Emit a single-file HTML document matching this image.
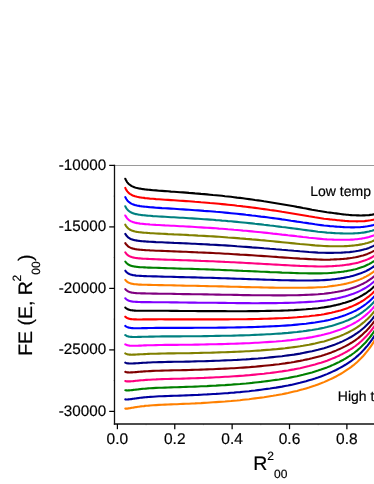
<!DOCTYPE html>
<html>
<head>
<meta charset="utf-8">
<title>FE (E, R2 00) vs R2 00</title>
<style>
html, body { margin: 0; padding: 0; background: #ffffff; }
body { width: 374px; height: 484px; overflow: hidden; position: relative; }
svg { position: absolute; left: 0; top: 0; display: block; }
text { font-family: "Liberation Sans", sans-serif; fill: #000000; stroke: #000000; stroke-width: 0.2px; text-rendering: geometricPrecision; }
svg { will-change: transform; }
svg text { filter: opacity(1); }
.curves path { fill: none; stroke-width: 2.1; stroke-linecap: round; stroke-linejoin: round; }
</style>
</head>
<body>
<svg width="374" height="484" viewBox="0 0 374 484">
<rect x="0" y="0" width="374" height="484" fill="#ffffff"/>
<g class="curves">
<path d="M125.3 178.8L125.8 179.8L126.3 180.7L126.8 181.6L127.3 182.3L127.8 182.9L128.3 183.5L128.8 184L129.3 184.4L129.8 184.8L130.3 185.2L130.8 185.5L131.3 185.8L131.8 186.1L132.3 186.4L132.8 186.6L133.3 186.8L133.8 187L134.3 187.2L134.8 187.4L135 187.5L136 187.8L137 188L138 188.2L139 188.5L140 188.6L141 188.8L142 189L143 189.1L144 189.2L145 189.4L146 189.5L147 189.6L148 189.7L149 189.8L150 189.9L153 190.2L156 190.4L159 190.7L162 190.9L165 191.1L168 191.3L171 191.6L174 191.8L177 192L180 192.2L183 192.4L186 192.6L189 192.9L192 193.1L195 193.4L198 193.6L201 193.9L204 194.1L207 194.4L210 194.7L213 195L216 195.2L219 195.5L222 195.8L225 196.2L228 196.5L231 196.8L234 197.2L237 197.6L240 197.9L243 198.3L246 198.7L249 199.1L252 199.5L255 200L258 200.4L261 200.8L264 201.3L267 201.7L270 202.2L273 202.7L276 203.2L279 203.7L282 204.2L285 204.7L288 205.2L291 205.7L294 206.3L297 206.9L300 207.4L303 208L306 208.5L309 209.1L312 209.7L315 210.2L318 210.8L321 211.3L324 211.8L327 212.3L330 212.6L331.5 212.8L333 213L334.5 213.2L336 213.4L337.5 213.6L339 213.8L340.5 214L342 214.2L343.5 214.4L345 214.5L346.5 214.7L348 214.8L349.5 215L351 215.1L352.5 215.2L354 215.3L355.5 215.3L357 215.4L358.5 215.4L360 215.5L361.5 215.5L363 215.4L364.5 215.4L366 215.3L367.5 215.2L369 215.1L370.5 214.9L372 214.7L373.5 214.4L374.5 214.2" stroke="#000000"/>
<path d="M125.3 187.9L125.8 189L126.3 189.9L126.8 190.6L127.3 191.3L127.8 191.9L128.3 192.5L128.8 192.9L129.3 193.4L129.8 193.8L130.3 194.1L130.8 194.4L131.3 194.7L131.8 195L132.3 195.2L132.8 195.5L133.3 195.7L133.8 195.9L134.3 196L134.8 196.2L135 196.3L136 196.5L137 196.8L138 197L139 197.2L140 197.4L141 197.5L142 197.7L143 197.8L144 197.9L145 198.1L146 198.2L147 198.3L148 198.4L149 198.5L150 198.6L153 198.8L156 199.1L159 199.3L162 199.5L165 199.7L168 199.9L171 200.1L174 200.3L177 200.5L180 200.7L183 200.9L186 201.1L189 201.3L192 201.5L195 201.8L198 202L201 202.3L204 202.5L207 202.7L210 203L213 203.2L216 203.5L219 203.8L222 204.1L225 204.4L228 204.7L231 205L234 205.3L237 205.7L240 206L243 206.4L246 206.7L249 207.1L252 207.5L255 207.9L258 208.3L261 208.7L264 209.1L267 209.5L270 210L273 210.4L276 210.8L279 211.3L282 211.8L285 212.2L288 212.7L291 213.2L294 213.7L297 214.2L300 214.7L303 215.2L306 215.7L309 216.3L312 216.8L315 217.3L318 217.7L321 218.2L324 218.7L327 219L330 219.4L331.5 219.5L333 219.7L334.5 219.8L336 220L337.5 220.2L339 220.3L340.5 220.5L342 220.6L343.5 220.7L345 220.9L346.5 221L348 221.1L349.5 221.2L351 221.2L352.5 221.3L354 221.3L355.5 221.3L357 221.4L358.5 221.3L360 221.3L361.5 221.3L363 221.2L364.5 221.1L366 220.9L367.5 220.8L369 220.5L370.5 220.3L372 220L373.5 219.7L374.5 219.5" stroke="#ff0000"/>
<path d="M125.3 197.1L125.8 198.1L126.3 199L126.8 199.7L127.3 200.4L127.8 201L128.3 201.5L128.8 201.9L129.3 202.3L129.8 202.7L130.3 203L130.8 203.3L131.3 203.6L131.8 203.9L132.3 204.1L132.8 204.3L133.3 204.5L133.8 204.7L134.3 204.8L134.8 205L135 205.1L136 205.3L137 205.6L138 205.8L139 205.9L140 206.1L141 206.2L142 206.4L143 206.5L144 206.6L145 206.7L146 206.8L147 206.9L148 207L149 207.1L150 207.2L153 207.4L156 207.7L159 207.9L162 208.1L165 208.2L168 208.4L171 208.6L174 208.8L177 209L180 209.2L183 209.4L186 209.6L189 209.8L192 210L195 210.2L198 210.4L201 210.6L204 210.9L207 211.1L210 211.3L213 211.5L216 211.8L219 212L222 212.3L225 212.6L228 212.9L231 213.2L234 213.5L237 213.8L240 214.1L243 214.4L246 214.8L249 215.1L252 215.5L255 215.8L258 216.2L261 216.6L264 216.9L267 217.3L270 217.7L273 218.1L276 218.5L279 218.9L282 219.4L285 219.8L288 220.2L291 220.7L294 221.1L297 221.6L300 222L303 222.5L306 222.9L309 223.4L312 223.8L315 224.3L318 224.7L321 225.1L324 225.5L327 225.8L330 226.1L331.5 226.2L333 226.3L334.5 226.5L336 226.6L337.5 226.7L339 226.8L340.5 226.9L342 227L343.5 227.1L345 227.2L346.5 227.3L348 227.3L349.5 227.3L351 227.4L352.5 227.4L354 227.4L355.5 227.3L357 227.3L358.5 227.2L360 227.2L361.5 227L363 226.9L364.5 226.7L366 226.5L367.5 226.3L369 226L370.5 225.7L372 225.4L373.5 225L374.5 224.7" stroke="#0000ff"/>
<path d="M125.3 206.3L125.8 207.3L126.3 208.1L126.8 208.8L127.3 209.4L127.8 210L128.3 210.5L128.8 210.9L129.3 211.3L129.8 211.6L130.3 212L130.8 212.2L131.3 212.5L131.8 212.7L132.3 213L132.8 213.2L133.3 213.3L133.8 213.5L134.3 213.7L134.8 213.8L135 213.9L136 214.1L137 214.3L138 214.5L139 214.7L140 214.8L141 215L142 215.1L143 215.2L144 215.3L145 215.4L146 215.5L147 215.6L148 215.7L149 215.8L150 215.8L153 216.1L156 216.3L159 216.5L162 216.6L165 216.8L168 217L171 217.2L174 217.3L177 217.5L180 217.7L183 217.8L186 218L189 218.2L192 218.4L195 218.6L198 218.8L201 219L204 219.2L207 219.4L210 219.6L213 219.8L216 220.1L219 220.3L222 220.6L225 220.8L228 221.1L231 221.3L234 221.6L237 221.9L240 222.2L243 222.5L246 222.8L249 223.1L252 223.4L255 223.8L258 224.1L261 224.4L264 224.8L267 225.1L270 225.5L273 225.8L276 226.2L279 226.6L282 227L285 227.3L288 227.7L291 228.1L294 228.5L297 228.9L300 229.3L303 229.7L306 230.1L309 230.5L312 230.9L315 231.3L318 231.7L321 232L324 232.3L327 232.6L330 232.8L331.5 232.9L333 233L334.5 233.1L336 233.2L337.5 233.2L339 233.3L340.5 233.4L342 233.4L343.5 233.5L345 233.5L346.5 233.5L348 233.5L349.5 233.5L351 233.5L352.5 233.5L354 233.4L355.5 233.3L357 233.2L358.5 233.1L360 233L361.5 232.8L363 232.6L364.5 232.4L366 232.1L367.5 231.8L369 231.5L370.5 231.1L372 230.7L373.5 230.2L374.5 229.9" stroke="#008080"/>
<path d="M125.3 215.5L125.8 216.4L126.3 217.2L126.8 217.9L127.3 218.5L127.8 219L128.3 219.5L128.8 219.9L129.3 220.3L129.8 220.6L130.3 220.9L130.8 221.2L131.3 221.4L131.8 221.6L132.3 221.8L132.8 222L133.3 222.2L133.8 222.3L134.3 222.5L134.8 222.6L135 222.7L136 222.9L137 223.1L138 223.3L139 223.4L140 223.6L141 223.7L142 223.8L143 223.9L144 224L145 224.1L146 224.2L147 224.3L148 224.3L149 224.4L150 224.5L153 224.7L156 224.9L159 225L162 225.2L165 225.4L168 225.5L171 225.7L174 225.8L177 226L180 226.2L183 226.3L186 226.5L189 226.6L192 226.8L195 227L198 227.2L201 227.4L204 227.6L207 227.8L210 227.9L213 228.1L216 228.3L219 228.6L222 228.8L225 229L228 229.3L231 229.5L234 229.8L237 230L240 230.3L243 230.6L246 230.8L249 231.1L252 231.4L255 231.7L258 232L261 232.3L264 232.6L267 232.9L270 233.2L273 233.6L276 233.9L279 234.2L282 234.6L285 234.9L288 235.3L291 235.6L294 235.9L297 236.3L300 236.6L303 237L306 237.3L309 237.7L312 238L315 238.3L318 238.6L321 238.9L324 239.2L327 239.4L330 239.5L331.5 239.5L333 239.6L334.5 239.7L336 239.7L337.5 239.8L339 239.8L340.5 239.8L342 239.8L343.5 239.8L345 239.8L346.5 239.8L348 239.8L349.5 239.7L351 239.6L352.5 239.6L354 239.5L355.5 239.3L357 239.2L358.5 239L360 238.8L361.5 238.6L363 238.3L364.5 238.1L366 237.7L367.5 237.4L369 237L370.5 236.5L372 236L373.5 235.5L374.5 235.1" stroke="#ff00ff"/>
<path d="M125.3 224.7L125.8 225.6L126.3 226.3L126.8 227L127.3 227.5L127.8 228L128.3 228.5L128.8 228.9L129.3 229.2L129.8 229.5L130.3 229.8L130.8 230.1L131.3 230.3L131.8 230.5L132.3 230.7L132.8 230.9L133.3 231L133.8 231.2L134.3 231.3L134.8 231.4L135 231.5L136 231.7L137 231.9L138 232L139 232.2L140 232.3L141 232.4L142 232.5L143 232.6L144 232.7L145 232.8L146 232.8L147 232.9L148 233L149 233L150 233.1L153 233.3L156 233.5L159 233.6L162 233.8L165 233.9L168 234.1L171 234.2L174 234.4L177 234.5L180 234.6L183 234.8L186 234.9L189 235.1L192 235.2L195 235.4L198 235.6L201 235.7L204 235.9L207 236.1L210 236.3L213 236.4L216 236.6L219 236.8L222 237L225 237.2L228 237.5L231 237.7L234 237.9L237 238.1L240 238.4L243 238.6L246 238.9L249 239.1L252 239.4L255 239.6L258 239.9L261 240.2L264 240.4L267 240.7L270 241L273 241.3L276 241.6L279 241.9L282 242.2L285 242.5L288 242.8L291 243.1L294 243.4L297 243.7L300 244L303 244.2L306 244.5L309 244.8L312 245.1L315 245.4L318 245.6L321 245.8L324 246L327 246.1L330 246.2L331.5 246.2L333 246.2L334.5 246.3L336 246.3L337.5 246.3L339 246.3L340.5 246.3L342 246.2L343.5 246.2L345 246.1L346.5 246.1L348 246L349.5 245.9L351 245.8L352.5 245.6L354 245.5L355.5 245.3L357 245.1L358.5 244.9L360 244.6L361.5 244.4L363 244L364.5 243.7L366 243.3L367.5 242.9L369 242.4L370.5 241.9L372 241.4L373.5 240.7L374.5 240.3" stroke="#808000"/>
<path d="M125.3 233.9L125.8 234.7L126.3 235.4L126.8 236.1L127.3 236.6L127.8 237.1L128.3 237.5L128.8 237.8L129.3 238.2L129.8 238.5L130.3 238.7L130.8 239L131.3 239.2L131.8 239.4L132.3 239.5L132.8 239.7L133.3 239.8L133.8 240L134.3 240.1L134.8 240.2L135 240.3L136 240.4L137 240.6L138 240.8L139 240.9L140 241L141 241.1L142 241.2L143 241.3L144 241.4L145 241.4L146 241.5L147 241.6L148 241.6L149 241.7L150 241.7L153 241.9L156 242.1L159 242.2L162 242.3L165 242.5L168 242.6L171 242.7L174 242.9L177 243L180 243.1L183 243.3L186 243.4L189 243.5L192 243.7L195 243.8L198 244L201 244.1L204 244.3L207 244.4L210 244.6L213 244.7L216 244.9L219 245.1L222 245.3L225 245.4L228 245.6L231 245.8L234 246L237 246.3L240 246.5L243 246.7L246 246.9L249 247.1L252 247.4L255 247.6L258 247.8L261 248L264 248.3L267 248.5L270 248.8L273 249L276 249.3L279 249.5L282 249.8L285 250L288 250.3L291 250.5L294 250.8L297 251L300 251.3L303 251.5L306 251.7L309 252L312 252.2L315 252.4L318 252.6L321 252.7L324 252.8L327 252.9L330 252.9L331.5 252.9L333 252.9L334.5 252.8L336 252.8L337.5 252.8L339 252.7L340.5 252.7L342 252.6L343.5 252.5L345 252.4L346.5 252.3L348 252.2L349.5 252.1L351 251.9L352.5 251.7L354 251.5L355.5 251.3L357 251L358.5 250.8L360 250.4L361.5 250.1L363 249.7L364.5 249.3L366 248.9L367.5 248.4L369 247.9L370.5 247.3L372 246.6L373.5 245.9L374.5 245.4" stroke="#000080"/>
<path d="M125.3 243.1L125.8 243.9L126.3 244.6L126.8 245.1L127.3 245.6L127.8 246.1L128.3 246.5L128.8 246.8L129.3 247.1L129.8 247.4L130.3 247.6L130.8 247.9L131.3 248.1L131.8 248.2L132.3 248.4L132.8 248.5L133.3 248.7L133.8 248.8L134.3 248.9L134.8 249L135 249.1L136 249.2L137 249.4L138 249.5L139 249.6L140 249.7L141 249.8L142 249.9L143 250L144 250L145 250.1L146 250.2L147 250.2L148 250.3L149 250.3L150 250.4L153 250.5L156 250.7L159 250.8L162 250.9L165 251L168 251.1L171 251.3L174 251.4L177 251.5L180 251.6L183 251.7L186 251.8L189 252L192 252.1L195 252.2L198 252.4L201 252.5L204 252.6L207 252.8L210 252.9L213 253L216 253.2L219 253.3L222 253.5L225 253.7L228 253.8L231 254L234 254.2L237 254.4L240 254.6L243 254.7L246 254.9L249 255.1L252 255.3L255 255.5L258 255.7L261 255.9L264 256.1L267 256.3L270 256.5L273 256.7L276 256.9L279 257.2L282 257.4L285 257.6L288 257.8L291 258L294 258.2L297 258.4L300 258.6L303 258.7L306 258.9L309 259.1L312 259.3L315 259.4L318 259.5L321 259.6L324 259.7L327 259.7L330 259.6L331.5 259.5L333 259.5L334.5 259.4L336 259.4L337.5 259.3L339 259.2L340.5 259.1L342 259L343.5 258.9L345 258.7L346.5 258.6L348 258.4L349.5 258.2L351 258L352.5 257.8L354 257.5L355.5 257.3L357 256.9L358.5 256.6L360 256.2L361.5 255.8L363 255.4L364.5 254.9L366 254.4L367.5 253.9L369 253.3L370.5 252.6L372 251.9L373.5 251.1L374.5 250.6" stroke="#800000"/>
<path d="M125.3 252.3L125.8 253L126.3 253.7L126.8 254.2L127.3 254.7L127.8 255.1L128.3 255.5L128.8 255.8L129.3 256.1L129.8 256.3L130.3 256.6L130.8 256.8L131.3 256.9L131.8 257.1L132.3 257.3L132.8 257.4L133.3 257.5L133.8 257.6L134.3 257.7L134.8 257.8L135 257.9L136 258L137 258.1L138 258.3L139 258.4L140 258.4L141 258.5L142 258.6L143 258.7L144 258.7L145 258.8L146 258.8L147 258.9L148 258.9L149 259L150 259L153 259.1L156 259.3L159 259.4L162 259.5L165 259.6L168 259.7L171 259.8L174 259.9L177 260L180 260.1L183 260.2L186 260.3L189 260.4L192 260.5L195 260.6L198 260.7L201 260.9L204 261L207 261.1L210 261.2L213 261.3L216 261.5L219 261.6L222 261.7L225 261.9L228 262L231 262.2L234 262.3L237 262.5L240 262.6L243 262.8L246 263L249 263.1L252 263.3L255 263.5L258 263.6L261 263.8L264 264L267 264.1L270 264.3L273 264.5L276 264.6L279 264.8L282 265L285 265.1L288 265.3L291 265.5L294 265.6L297 265.7L300 265.9L303 266L306 266.1L309 266.2L312 266.3L315 266.4L318 266.5L321 266.5L324 266.5L327 266.4L330 266.3L331.5 266.2L333 266.1L334.5 266L336 265.9L337.5 265.8L339 265.7L340.5 265.5L342 265.4L343.5 265.2L345 265L346.5 264.8L348 264.6L349.5 264.4L351 264.1L352.5 263.8L354 263.5L355.5 263.2L357 262.9L358.5 262.5L360 262L361.5 261.6L363 261.1L364.5 260.6L366 260L367.5 259.4L369 258.7L370.5 258L372 257.2L373.5 256.3L374.5 255.7" stroke="#ff0080"/>
<path d="M125.3 261.5L125.8 262.2L126.3 262.8L126.8 263.3L127.3 263.7L127.8 264.1L128.3 264.5L128.8 264.8L129.3 265L129.8 265.3L130.3 265.5L130.8 265.7L131.3 265.8L131.8 266L132.3 266.1L132.8 266.2L133.3 266.3L133.8 266.4L134.3 266.5L134.8 266.6L135 266.6L136 266.8L137 266.9L138 267L139 267.1L140 267.2L141 267.2L142 267.3L143 267.3L144 267.4L145 267.4L146 267.5L147 267.5L148 267.6L149 267.6L150 267.6L153 267.7L156 267.8L159 267.9L162 268L165 268.1L168 268.2L171 268.3L174 268.4L177 268.5L180 268.6L183 268.7L186 268.8L189 268.8L192 268.9L195 269L198 269.1L201 269.2L204 269.3L207 269.4L210 269.5L213 269.6L216 269.7L219 269.8L222 270L225 270.1L228 270.2L231 270.3L234 270.5L237 270.6L240 270.7L243 270.9L246 271L249 271.1L252 271.3L255 271.4L258 271.5L261 271.7L264 271.8L267 271.9L270 272.1L273 272.2L276 272.3L279 272.4L282 272.6L285 272.7L288 272.8L291 272.9L294 273L297 273.1L300 273.2L303 273.2L306 273.3L309 273.4L312 273.4L315 273.4L318 273.4L321 273.4L324 273.3L327 273.2L330 273L331.5 272.9L333 272.7L334.5 272.6L336 272.5L337.5 272.3L339 272.1L340.5 272L342 271.8L343.5 271.6L345 271.3L346.5 271.1L348 270.8L349.5 270.5L351 270.2L352.5 269.9L354 269.5L355.5 269.2L357 268.8L358.5 268.3L360 267.8L361.5 267.3L363 266.8L364.5 266.2L366 265.5L367.5 264.8L369 264.1L370.5 263.3L372 262.4L373.5 261.5L374.5 260.8" stroke="#008000"/>
<path d="M125.3 270.7L125.8 271.3L126.3 271.9L126.8 272.4L127.3 272.8L127.8 273.2L128.3 273.5L128.8 273.7L129.3 274L129.8 274.2L130.3 274.4L130.8 274.6L131.3 274.7L131.8 274.8L132.3 275L132.8 275.1L133.3 275.2L133.8 275.3L134.3 275.3L134.8 275.4L135 275.4L136 275.6L137 275.7L138 275.8L139 275.8L140 275.9L141 275.9L142 276L143 276L144 276.1L145 276.1L146 276.1L147 276.2L148 276.2L149 276.2L150 276.3L153 276.4L156 276.4L159 276.5L162 276.6L165 276.7L168 276.7L171 276.8L174 276.9L177 277L180 277.1L183 277.1L186 277.2L189 277.3L192 277.4L195 277.4L198 277.5L201 277.6L204 277.7L207 277.8L210 277.8L213 277.9L216 278L219 278.1L222 278.2L225 278.3L228 278.4L231 278.5L234 278.6L237 278.7L240 278.8L243 278.9L246 279L249 279.1L252 279.2L255 279.3L258 279.4L261 279.5L264 279.6L267 279.7L270 279.8L273 279.9L276 280L279 280.1L282 280.2L285 280.2L288 280.3L291 280.4L294 280.4L297 280.5L300 280.5L303 280.5L306 280.5L309 280.5L312 280.5L315 280.4L318 280.4L321 280.3L324 280.1L327 279.9L330 279.7L331.5 279.5L333 279.3L334.5 279.2L336 279L337.5 278.8L339 278.6L340.5 278.4L342 278.1L343.5 277.9L345 277.6L346.5 277.3L348 277L349.5 276.7L351 276.3L352.5 275.9L354 275.5L355.5 275.1L357 274.6L358.5 274.1L360 273.6L361.5 273L363 272.4L364.5 271.8L366 271.1L367.5 270.3L369 269.5L370.5 268.6L372 267.7L373.5 266.7L374.5 265.9" stroke="#0000a0"/>
<path d="M125.3 279.9L125.8 280.5L126.3 281L126.8 281.5L127.3 281.8L127.8 282.2L128.3 282.5L128.8 282.7L129.3 282.9L129.8 283.1L130.3 283.3L130.8 283.5L131.3 283.6L131.8 283.7L132.3 283.8L132.8 283.9L133.3 284L133.8 284.1L134.3 284.2L134.8 284.2L135 284.2L136 284.3L137 284.4L138 284.5L139 284.6L140 284.6L141 284.6L142 284.7L143 284.7L144 284.7L145 284.8L146 284.8L147 284.8L148 284.9L149 284.9L150 284.9L153 285L156 285L159 285.1L162 285.1L165 285.2L168 285.3L171 285.3L174 285.4L177 285.5L180 285.5L183 285.6L186 285.7L189 285.7L192 285.8L195 285.8L198 285.9L201 286L204 286L207 286.1L210 286.2L213 286.2L216 286.3L219 286.4L222 286.4L225 286.5L228 286.6L231 286.7L234 286.8L237 286.8L240 286.9L243 287L246 287.1L249 287.1L252 287.2L255 287.3L258 287.3L261 287.4L264 287.5L267 287.5L270 287.6L273 287.6L276 287.7L279 287.7L282 287.8L285 287.8L288 287.8L291 287.8L294 287.8L297 287.8L300 287.8L303 287.8L306 287.7L309 287.6L312 287.6L315 287.5L318 287.3L321 287.2L324 287L327 286.7L330 286.3L331.5 286.1L333 285.9L334.5 285.7L336 285.5L337.5 285.3L339 285L340.5 284.8L342 284.5L343.5 284.2L345 283.9L346.5 283.6L348 283.2L349.5 282.8L351 282.4L352.5 282L354 281.5L355.5 281.1L357 280.5L358.5 280L360 279.4L361.5 278.7L363 278.1L364.5 277.3L366 276.6L367.5 275.7L369 274.9L370.5 273.9L372 272.9L373.5 271.8L374.5 271" stroke="#ff8000"/>
<path d="M125.3 289.1L125.8 289.7L126.3 290.1L126.8 290.5L127.3 290.9L127.8 291.2L128.3 291.5L128.8 291.7L129.3 291.9L129.8 292.1L130.3 292.2L130.8 292.4L131.3 292.5L131.8 292.6L132.3 292.7L132.8 292.8L133.3 292.8L133.8 292.9L134.3 293L134.8 293L135 293L136 293.1L137 293.2L138 293.2L139 293.3L140 293.3L141 293.4L142 293.4L143 293.4L144 293.4L145 293.4L146 293.5L147 293.5L148 293.5L149 293.5L150 293.5L153 293.6L156 293.6L159 293.7L162 293.7L165 293.7L168 293.8L171 293.8L174 293.9L177 294L180 294L183 294.1L186 294.1L189 294.1L192 294.2L195 294.2L198 294.3L201 294.3L204 294.4L207 294.4L210 294.5L213 294.5L216 294.6L219 294.6L222 294.7L225 294.7L228 294.8L231 294.8L234 294.9L237 294.9L240 295L243 295.1L246 295.1L249 295.1L252 295.2L255 295.2L258 295.2L261 295.3L264 295.3L267 295.3L270 295.3L273 295.4L276 295.4L279 295.4L282 295.4L285 295.4L288 295.3L291 295.3L294 295.3L297 295.2L300 295.1L303 295L306 294.9L309 294.8L312 294.6L315 294.5L318 294.3L321 294L324 293.8L327 293.4L330 293L331.5 292.8L333 292.5L334.5 292.3L336 292L337.5 291.8L339 291.5L340.5 291.2L342 290.9L343.5 290.5L345 290.2L346.5 289.8L348 289.4L349.5 289L351 288.5L352.5 288L354 287.5L355.5 287L357 286.4L358.5 285.8L360 285.1L361.5 284.4L363 283.7L364.5 282.9L366 282.1L367.5 281.2L369 280.2L370.5 279.2L372 278.1L373.5 276.9L374.5 276.1" stroke="#800080"/>
<path d="M125.3 298.3L125.8 298.8L126.3 299.2L126.8 299.6L127.3 299.9L127.8 300.2L128.3 300.5L128.8 300.7L129.3 300.9L129.8 301L130.3 301.1L130.8 301.3L131.3 301.4L131.8 301.5L132.3 301.5L132.8 301.6L133.3 301.7L133.8 301.7L134.3 301.8L134.8 301.8L135 301.8L136 301.9L137 301.9L138 302L139 302L140 302L141 302.1L142 302.1L143 302.1L144 302.1L145 302.1L146 302.1L147 302.1L148 302.1L149 302.1L150 302.1L153 302.2L156 302.2L159 302.2L162 302.2L165 302.3L168 302.3L171 302.4L174 302.4L177 302.4L180 302.5L183 302.5L186 302.5L189 302.6L192 302.6L195 302.6L198 302.7L201 302.7L204 302.7L207 302.8L210 302.8L213 302.8L216 302.8L219 302.9L222 302.9L225 302.9L228 303L231 303L234 303L237 303.1L240 303.1L243 303.1L246 303.1L249 303.1L252 303.2L255 303.2L258 303.2L261 303.1L264 303.1L267 303.1L270 303.1L273 303.1L276 303.1L279 303L282 303L285 302.9L288 302.9L291 302.8L294 302.7L297 302.5L300 302.4L303 302.3L306 302.1L309 301.9L312 301.7L315 301.5L318 301.2L321 300.9L324 300.6L327 300.2L330 299.7L331.5 299.4L333 299.1L334.5 298.9L336 298.6L337.5 298.3L339 297.9L340.5 297.6L342 297.2L343.5 296.8L345 296.4L346.5 296L348 295.6L349.5 295.1L351 294.6L352.5 294.1L354 293.5L355.5 292.9L357 292.3L358.5 291.6L360 290.9L361.5 290.1L363 289.3L364.5 288.5L366 287.6L367.5 286.6L369 285.6L370.5 284.5L372 283.3L373.5 282.1L374.5 281.2" stroke="#8000ff"/>
<path d="M125.3 307.5L125.8 308L126.3 308.4L126.8 308.7L127.3 309L127.8 309.2L128.3 309.5L128.8 309.6L129.3 309.8L129.8 309.9L130.3 310.1L130.8 310.2L131.3 310.2L131.8 310.3L132.3 310.4L132.8 310.4L133.3 310.5L133.8 310.5L134.3 310.6L134.8 310.6L135 310.6L136 310.7L137 310.7L138 310.7L139 310.7L140 310.8L141 310.8L142 310.8L143 310.8L144 310.8L145 310.8L146 310.8L147 310.8L148 310.8L149 310.8L150 310.8L153 310.8L156 310.8L159 310.8L162 310.8L165 310.8L168 310.8L171 310.9L174 310.9L177 310.9L180 311L183 311L186 311L189 311L192 311L195 311L198 311.1L201 311.1L204 311.1L207 311.1L210 311.1L213 311.1L216 311.1L219 311.1L222 311.1L225 311.1L228 311.2L231 311.2L234 311.2L237 311.2L240 311.2L243 311.2L246 311.2L249 311.1L252 311.1L255 311.1L258 311.1L261 311L264 311L267 310.9L270 310.9L273 310.8L276 310.7L279 310.7L282 310.6L285 310.5L288 310.4L291 310.2L294 310.1L297 309.9L300 309.7L303 309.5L306 309.3L309 309L312 308.8L315 308.5L318 308.2L321 307.8L324 307.4L327 306.9L330 306.4L331.5 306.1L333 305.7L334.5 305.4L336 305.1L337.5 304.7L339 304.4L340.5 304L342 303.6L343.5 303.1L345 302.7L346.5 302.2L348 301.7L349.5 301.2L351 300.7L352.5 300.1L354 299.5L355.5 298.8L357 298.1L358.5 297.4L360 296.6L361.5 295.8L363 294.9L364.5 294L366 293.1L367.5 292L369 290.9L370.5 289.8L372 288.5L373.5 287.1L374.5 286.2" stroke="#000000"/>
<path d="M125.3 316.7L125.8 317.1L126.3 317.5L126.8 317.8L127.3 318.1L127.8 318.3L128.3 318.5L128.8 318.6L129.3 318.8L129.8 318.9L130.3 319L130.8 319.1L131.3 319.1L131.8 319.2L132.3 319.2L132.8 319.3L133.3 319.3L133.8 319.4L134.3 319.4L134.8 319.4L135 319.4L136 319.4L137 319.5L138 319.5L139 319.5L140 319.5L141 319.5L142 319.5L143 319.4L144 319.4L145 319.4L146 319.4L147 319.4L148 319.4L149 319.4L150 319.4L153 319.4L156 319.4L159 319.3L162 319.3L165 319.4L168 319.4L171 319.4L174 319.4L177 319.4L180 319.4L183 319.4L186 319.4L189 319.4L192 319.4L195 319.4L198 319.4L201 319.4L204 319.4L207 319.4L210 319.4L213 319.4L216 319.4L219 319.4L222 319.4L225 319.4L228 319.4L231 319.3L234 319.3L237 319.3L240 319.3L243 319.2L246 319.2L249 319.1L252 319.1L255 319L258 319L261 318.9L264 318.8L267 318.7L270 318.6L273 318.5L276 318.4L279 318.3L282 318.2L285 318L288 317.9L291 317.7L294 317.5L297 317.3L300 317L303 316.8L306 316.5L309 316.2L312 315.8L315 315.5L318 315.1L321 314.7L324 314.2L327 313.6L330 313L331.5 312.7L333 312.3L334.5 312L336 311.6L337.5 311.2L339 310.8L340.5 310.4L342 309.9L343.5 309.4L345 308.9L346.5 308.4L348 307.9L349.5 307.3L351 306.7L352.5 306.1L354 305.4L355.5 304.8L357 304L358.5 303.2L360 302.4L361.5 301.5L363 300.6L364.5 299.6L366 298.5L367.5 297.4L369 296.3L370.5 295L372 293.7L373.5 292.2L374.5 291.2" stroke="#ff0000"/>
<path d="M125.3 325.9L125.8 326.3L126.3 326.6L126.8 326.9L127.3 327.1L127.8 327.3L128.3 327.5L128.8 327.6L129.3 327.7L129.8 327.8L130.3 327.9L130.8 328L131.3 328L131.8 328.1L132.3 328.1L132.8 328.1L133.3 328.2L133.8 328.2L134.3 328.2L134.8 328.2L135 328.2L136 328.2L137 328.2L138 328.2L139 328.2L140 328.2L141 328.2L142 328.1L143 328.1L144 328.1L145 328.1L146 328.1L147 328.1L148 328L149 328L150 328L153 328L156 327.9L159 327.9L162 327.9L165 327.9L168 327.9L171 327.9L174 327.9L177 327.9L180 327.9L183 327.9L186 327.9L189 327.9L192 327.9L195 327.8L198 327.8L201 327.8L204 327.8L207 327.8L210 327.7L213 327.7L216 327.7L219 327.6L222 327.6L225 327.6L228 327.5L231 327.5L234 327.5L237 327.4L240 327.4L243 327.3L246 327.2L249 327.1L252 327.1L255 327L258 326.9L261 326.8L264 326.6L267 326.5L270 326.4L273 326.3L276 326.1L279 326L282 325.8L285 325.6L288 325.4L291 325.2L294 324.9L297 324.6L300 324.3L303 324L306 323.7L309 323.3L312 322.9L315 322.5L318 322L321 321.5L324 321L327 320.4L330 319.7L331.5 319.3L333 318.9L334.5 318.5L336 318.1L337.5 317.7L339 317.2L340.5 316.7L342 316.3L343.5 315.7L345 315.2L346.5 314.6L348 314L349.5 313.4L351 312.8L352.5 312.1L354 311.4L355.5 310.7L357 309.9L358.5 309L360 308.1L361.5 307.2L363 306.2L364.5 305.1L366 304L367.5 302.8L369 301.6L370.5 300.2L372 298.8L373.5 297.3L374.5 296.2" stroke="#0000ff"/>
<path d="M125.3 335.1L125.8 335.4L126.3 335.7L126.8 336L127.3 336.2L127.8 336.3L128.3 336.5L128.8 336.6L129.3 336.7L129.8 336.7L130.3 336.8L130.8 336.9L131.3 336.9L131.8 336.9L132.3 337L132.8 337L133.3 337L133.8 337L134.3 337L134.8 337L135 337L136 337L137 337L138 336.9L139 336.9L140 336.9L141 336.9L142 336.8L143 336.8L144 336.8L145 336.7L146 336.7L147 336.7L148 336.7L149 336.6L150 336.6L153 336.6L156 336.5L159 336.5L162 336.4L165 336.4L168 336.4L171 336.4L174 336.4L177 336.4L180 336.4L183 336.3L186 336.3L189 336.3L192 336.3L195 336.2L198 336.2L201 336.2L204 336.1L207 336.1L210 336L213 336L216 335.9L219 335.9L222 335.8L225 335.8L228 335.7L231 335.7L234 335.6L237 335.5L240 335.4L243 335.4L246 335.3L249 335.2L252 335L255 334.9L258 334.8L261 334.6L264 334.5L267 334.3L270 334.2L273 334L276 333.8L279 333.6L282 333.4L285 333.1L288 332.9L291 332.6L294 332.3L297 332L300 331.6L303 331.3L306 330.9L309 330.4L312 330L315 329.5L318 329L321 328.4L324 327.8L327 327.1L330 326.3L331.5 325.9L333 325.5L334.5 325.1L336 324.6L337.5 324.1L339 323.6L340.5 323.1L342 322.6L343.5 322L345 321.4L346.5 320.8L348 320.2L349.5 319.5L351 318.8L352.5 318.1L354 317.4L355.5 316.6L357 315.7L358.5 314.8L360 313.8L361.5 312.8L363 311.8L364.5 310.6L366 309.5L367.5 308.2L369 306.9L370.5 305.5L372 304L373.5 302.4L374.5 301.2" stroke="#008080"/>
<path d="M125.3 344.3L125.8 344.6L126.3 344.8L126.8 345L127.3 345.2L127.8 345.3L128.3 345.5L128.8 345.5L129.3 345.6L129.8 345.7L130.3 345.7L130.8 345.8L131.3 345.8L131.8 345.8L132.3 345.8L132.8 345.8L133.3 345.8L133.8 345.8L134.3 345.8L134.8 345.8L135 345.8L136 345.8L137 345.7L138 345.7L139 345.6L140 345.6L141 345.6L142 345.5L143 345.5L144 345.4L145 345.4L146 345.4L147 345.3L148 345.3L149 345.3L150 345.2L153 345.2L156 345.1L159 345L162 345L165 344.9L168 344.9L171 344.9L174 344.9L177 344.9L180 344.8L183 344.8L186 344.8L189 344.7L192 344.7L195 344.6L198 344.6L201 344.5L204 344.5L207 344.4L210 344.3L213 344.3L216 344.2L219 344.1L222 344.1L225 344L228 343.9L231 343.8L234 343.7L237 343.6L240 343.5L243 343.4L246 343.3L249 343.2L252 343L255 342.8L258 342.7L261 342.5L264 342.3L267 342.1L270 341.9L273 341.7L276 341.5L279 341.2L282 341L285 340.7L288 340.4L291 340.1L294 339.7L297 339.4L300 338.9L303 338.5L306 338.1L309 337.6L312 337.1L315 336.5L318 335.9L321 335.3L324 334.6L327 333.8L330 333L331.5 332.5L333 332.1L334.5 331.6L336 331.1L337.5 330.6L339 330.1L340.5 329.5L342 328.9L343.5 328.3L345 327.7L346.5 327L348 326.3L349.5 325.6L351 324.9L352.5 324.1L354 323.3L355.5 322.5L357 321.5L358.5 320.6L360 319.5L361.5 318.5L363 317.3L364.5 316.2L366 314.9L367.5 313.6L369 312.2L370.5 310.7L372 309.1L373.5 307.4L374.5 306.2" stroke="#ff00ff"/>
<path d="M125.3 353.4L125.8 353.7L126.3 353.9L126.8 354.1L127.3 354.3L127.8 354.4L128.3 354.5L128.8 354.5L129.3 354.6L129.8 354.6L130.3 354.6L130.8 354.6L131.3 354.7L131.8 354.7L132.3 354.7L132.8 354.6L133.3 354.6L133.8 354.6L134.3 354.6L134.8 354.6L135 354.6L136 354.5L137 354.5L138 354.4L139 354.4L140 354.3L141 354.3L142 354.2L143 354.2L144 354.1L145 354.1L146 354L147 354L148 353.9L149 353.9L150 353.8L153 353.7L156 353.7L159 353.6L162 353.5L165 353.5L168 353.4L171 353.4L174 353.4L177 353.3L180 353.3L183 353.3L186 353.2L189 353.2L192 353.1L195 353L198 353L201 352.9L204 352.8L207 352.7L210 352.7L213 352.6L216 352.5L219 352.4L222 352.3L225 352.2L228 352.1L231 352L234 351.9L237 351.8L240 351.6L243 351.5L246 351.3L249 351.2L252 351L255 350.8L258 350.6L261 350.4L264 350.1L267 349.9L270 349.7L273 349.4L276 349.2L279 348.9L282 348.6L285 348.3L288 347.9L291 347.5L294 347.1L297 346.7L300 346.3L303 345.8L306 345.2L309 344.7L312 344.1L315 343.5L318 342.8L321 342.1L324 341.4L327 340.5L330 339.6L331.5 339.1L333 338.6L334.5 338.1L336 337.6L337.5 337L339 336.5L340.5 335.9L342 335.2L343.5 334.6L345 333.9L346.5 333.2L348 332.5L349.5 331.7L351 330.9L352.5 330.1L354 329.3L355.5 328.3L357 327.4L358.5 326.3L360 325.3L361.5 324.1L363 322.9L364.5 321.7L366 320.3L367.5 318.9L369 317.4L370.5 315.9L372 314.2L373.5 312.4L374.5 311.2" stroke="#808000"/>
<path d="M125.3 362.6L125.8 362.9L126.3 363.1L126.8 363.2L127.3 363.3L127.8 363.4L128.3 363.4L128.8 363.5L129.3 363.5L129.8 363.5L130.3 363.5L130.8 363.5L131.3 363.5L131.8 363.5L132.3 363.5L132.8 363.5L133.3 363.5L133.8 363.4L134.3 363.4L134.8 363.4L135 363.4L136 363.3L137 363.2L138 363.2L139 363.1L140 363L141 363L142 362.9L143 362.8L144 362.8L145 362.7L146 362.7L147 362.6L148 362.5L149 362.5L150 362.5L153 362.3L156 362.2L159 362.1L162 362.1L165 362L168 361.9L171 361.9L174 361.8L177 361.8L180 361.8L183 361.7L186 361.6L189 361.6L192 361.5L195 361.4L198 361.3L201 361.3L204 361.2L207 361.1L210 361L213 360.9L216 360.8L219 360.7L222 360.5L225 360.4L228 360.3L231 360.2L234 360L237 359.9L240 359.7L243 359.5L246 359.4L249 359.2L252 358.9L255 358.7L258 358.5L261 358.2L264 358L267 357.7L270 357.4L273 357.1L276 356.8L279 356.5L282 356.2L285 355.8L288 355.4L291 355L294 354.6L297 354.1L300 353.6L303 353L306 352.4L309 351.8L312 351.2L315 350.5L318 349.8L321 349L324 348.2L327 347.3L330 346.3L331.5 345.8L333 345.2L334.5 344.7L336 344.1L337.5 343.5L339 342.9L340.5 342.2L342 341.6L343.5 340.9L345 340.1L346.5 339.4L348 338.6L349.5 337.8L351 337L352.5 336.1L354 335.2L355.5 334.2L357 333.2L358.5 332.1L360 331L361.5 329.7L363 328.5L364.5 327.2L366 325.8L367.5 324.3L369 322.7L370.5 321.1L372 319.3L373.5 317.4L374.5 316.1" stroke="#000080"/>
<path d="M125.3 371.8L125.8 372L126.3 372.2L126.8 372.3L127.3 372.4L127.8 372.4L128.3 372.4L128.8 372.5L129.3 372.5L129.8 372.5L130.3 372.5L130.8 372.4L131.3 372.4L131.8 372.4L132.3 372.4L132.8 372.3L133.3 372.3L133.8 372.2L134.3 372.2L134.8 372.2L135 372.1L136 372.1L137 372L138 371.9L139 371.8L140 371.7L141 371.6L142 371.6L143 371.5L144 371.4L145 371.4L146 371.3L147 371.2L148 371.2L149 371.1L150 371.1L153 370.9L156 370.8L159 370.7L162 370.6L165 370.5L168 370.5L171 370.4L174 370.3L177 370.3L180 370.2L183 370.1L186 370.1L189 370L192 369.9L195 369.8L198 369.7L201 369.6L204 369.5L207 369.4L210 369.3L213 369.2L216 369L219 368.9L222 368.8L225 368.6L228 368.5L231 368.3L234 368.2L237 368L240 367.8L243 367.6L246 367.4L249 367.2L252 366.9L255 366.7L258 366.4L261 366.1L264 365.8L267 365.5L270 365.2L273 364.9L276 364.5L279 364.2L282 363.8L285 363.4L288 362.9L291 362.5L294 362L297 361.4L300 360.9L303 360.3L306 359.6L309 359L312 358.3L315 357.5L318 356.7L321 355.9L324 355L327 354L330 352.9L331.5 352.4L333 351.8L334.5 351.2L336 350.6L337.5 349.9L339 349.3L340.5 348.6L342 347.9L343.5 347.1L345 346.4L346.5 345.6L348 344.8L349.5 343.9L351 343L352.5 342.1L354 341.1L355.5 340.1L357 339L358.5 337.9L360 336.6L361.5 335.4L363 334L364.5 332.6L366 331.2L367.5 329.6L369 328L370.5 326.2L372 324.4L373.5 322.4L374.5 321.1" stroke="#800000"/>
<path d="M125.3 381L125.8 381.2L126.3 381.3L126.8 381.4L127.3 381.4L127.8 381.4L128.3 381.4L128.8 381.4L129.3 381.4L129.8 381.4L130.3 381.4L130.8 381.3L131.3 381.3L131.8 381.3L132.3 381.2L132.8 381.2L133.3 381.1L133.8 381.1L134.3 381L134.8 381L135 380.9L136 380.8L137 380.7L138 380.6L139 380.5L140 380.4L141 380.3L142 380.3L143 380.2L144 380.1L145 380L146 379.9L147 379.9L148 379.8L149 379.7L150 379.7L153 379.5L156 379.4L159 379.2L162 379.1L165 379L168 379L171 378.9L174 378.8L177 378.7L180 378.7L183 378.6L186 378.5L189 378.4L192 378.3L195 378.2L198 378.1L201 378L204 377.9L207 377.7L210 377.6L213 377.5L216 377.3L219 377.2L222 377L225 376.8L228 376.7L231 376.5L234 376.3L237 376.1L240 375.9L243 375.7L246 375.4L249 375.2L252 374.9L255 374.6L258 374.3L261 374L264 373.7L267 373.3L270 373L273 372.6L276 372.2L279 371.8L282 371.4L285 370.9L288 370.5L291 369.9L294 369.4L297 368.8L300 368.2L303 367.5L306 366.8L309 366.1L312 365.3L315 364.5L318 363.6L321 362.7L324 361.7L327 360.7L330 359.5L331.5 358.9L333 358.3L334.5 357.7L336 357L337.5 356.4L339 355.7L340.5 354.9L342 354.2L343.5 353.4L345 352.6L346.5 351.8L348 350.9L349.5 350L351 349L352.5 348.1L354 347L355.5 346L357 344.8L358.5 343.6L360 342.3L361.5 341L363 339.6L364.5 338.1L366 336.6L367.5 334.9L369 333.2L370.5 331.4L372 329.5L373.5 327.4L374.5 326" stroke="#ff0080"/>
<path d="M125.3 390.2L125.8 390.3L126.3 390.4L126.8 390.4L127.3 390.5L127.8 390.5L128.3 390.4L128.8 390.4L129.3 390.4L129.8 390.3L130.3 390.3L130.8 390.2L131.3 390.2L131.8 390.1L132.3 390.1L132.8 390L133.3 389.9L133.8 389.9L134.3 389.8L134.8 389.7L135 389.7L136 389.6L137 389.5L138 389.4L139 389.2L140 389.1L141 389L142 388.9L143 388.8L144 388.7L145 388.7L146 388.6L147 388.5L148 388.4L149 388.3L150 388.3L153 388.1L156 387.9L159 387.8L162 387.7L165 387.6L168 387.5L171 387.4L174 387.3L177 387.2L180 387.1L183 387L186 386.9L189 386.8L192 386.7L195 386.6L198 386.5L201 386.3L204 386.2L207 386.1L210 385.9L213 385.7L216 385.6L219 385.4L222 385.2L225 385.1L228 384.9L231 384.7L234 384.4L237 384.2L240 384L243 383.7L246 383.5L249 383.2L252 382.9L255 382.5L258 382.2L261 381.9L264 381.5L267 381.1L270 380.7L273 380.3L276 379.9L279 379.5L282 379L285 378.5L288 378L291 377.4L294 376.8L297 376.2L300 375.5L303 374.8L306 374L309 373.2L312 372.4L315 371.5L318 370.6L321 369.6L324 368.5L327 367.4L330 366.2L331.5 365.5L333 364.9L334.5 364.2L336 363.5L337.5 362.8L339 362.1L340.5 361.3L342 360.5L343.5 359.7L345 358.8L346.5 357.9L348 357L349.5 356L351 355.1L352.5 354L354 353L355.5 351.8L357 350.6L358.5 349.3L360 348L361.5 346.6L363 345.1L364.5 343.6L366 342L367.5 340.2L369 338.4L370.5 336.5L372 334.5L373.5 332.4L374.5 330.9" stroke="#008000"/>
<path d="M125.3 399.4L125.8 399.5L126.3 399.5L126.8 399.5L127.3 399.5L127.8 399.5L128.3 399.4L128.8 399.4L129.3 399.3L129.8 399.3L130.3 399.2L130.8 399.1L131.3 399.1L131.8 399L132.3 398.9L132.8 398.8L133.3 398.8L133.8 398.7L134.3 398.6L134.8 398.5L135 398.5L136 398.4L137 398.2L138 398.1L139 398L140 397.8L141 397.7L142 397.6L143 397.5L144 397.4L145 397.3L146 397.2L147 397.1L148 397L149 397L150 396.9L153 396.7L156 396.5L159 396.3L162 396.2L165 396.1L168 396L171 395.9L174 395.8L177 395.7L180 395.6L183 395.5L186 395.4L189 395.3L192 395.1L195 395L198 394.9L201 394.7L204 394.5L207 394.4L210 394.2L213 394L216 393.9L219 393.7L222 393.5L225 393.3L228 393.1L231 392.8L234 392.6L237 392.3L240 392.1L243 391.8L246 391.5L249 391.2L252 390.8L255 390.5L258 390.1L261 389.7L264 389.3L267 388.9L270 388.5L273 388L276 387.6L279 387.1L282 386.6L285 386L288 385.5L291 384.9L294 384.2L297 383.5L300 382.8L303 382L306 381.2L309 380.3L312 379.4L315 378.5L318 377.5L321 376.4L324 375.3L327 374.1L330 372.8L331.5 372.1L333 371.4L334.5 370.7L336 370L337.5 369.2L339 368.4L340.5 367.6L342 366.8L343.5 365.9L345 365L346.5 364.1L348 363.1L349.5 362.1L351 361.1L352.5 360L354 358.9L355.5 357.7L357 356.4L358.5 355.1L360 353.7L361.5 352.2L363 350.6L364.5 349L366 347.3L367.5 345.6L369 343.7L370.5 341.7L372 339.6L373.5 337.3L374.5 335.8" stroke="#0000a0"/>
<path d="M125.3 408.6L125.8 408.6L126.3 408.6L126.8 408.6L127.3 408.6L127.8 408.5L128.3 408.4L128.8 408.4L129.3 408.3L129.8 408.2L130.3 408.1L130.8 408L131.3 407.9L131.8 407.8L132.3 407.8L132.8 407.7L133.3 407.6L133.8 407.5L134.3 407.4L134.8 407.3L135 407.3L136 407.1L137 407L138 406.8L139 406.7L140 406.5L141 406.4L142 406.3L143 406.2L144 406.1L145 405.9L146 405.8L147 405.8L148 405.7L149 405.6L150 405.5L153 405.3L156 405.1L159 404.9L162 404.7L165 404.6L168 404.5L171 404.4L174 404.3L177 404.2L180 404L183 403.9L186 403.8L189 403.7L192 403.5L195 403.4L198 403.2L201 403.1L204 402.9L207 402.7L210 402.5L213 402.3L216 402.1L219 401.9L222 401.7L225 401.5L228 401.2L231 401L234 400.7L237 400.5L240 400.2L243 399.8L246 399.5L249 399.2L252 398.8L255 398.4L258 398L261 397.6L264 397.2L267 396.7L270 396.2L273 395.8L276 395.3L279 394.7L282 394.2L285 393.6L288 393L291 392.3L294 391.6L297 390.9L300 390.1L303 389.3L306 388.4L309 387.5L312 386.5L315 385.5L318 384.4L321 383.3L324 382.1L327 380.8L330 379.4L331.5 378.7L333 378L334.5 377.2L336 376.5L337.5 375.6L339 374.8L340.5 374L342 373.1L343.5 372.2L345 371.2L346.5 370.2L348 369.2L349.5 368.2L351 367.1L352.5 365.9L354 364.8L355.5 363.5L357 362.2L358.5 360.8L360 359.3L361.5 357.8L363 356.2L364.5 354.5L366 352.7L367.5 350.8L369 348.9L370.5 346.8L372 344.6L373.5 342.3L374.5 340.6" stroke="#ff8000"/>
</g>
<g class="axes">
<line x1="114.50" y1="165.40" x2="375" y2="165.40" stroke="#000" stroke-width="0.6" opacity="0.75"/>
<line x1="114.50" y1="164.80" x2="114.50" y2="424.70" stroke="#111" stroke-width="1.3"/>
<line x1="113.85" y1="424.00" x2="375" y2="424.00" stroke="#111" stroke-width="1.45"/>
<line x1="109.2" y1="165.40" x2="114.50" y2="165.40" stroke="#000" stroke-width="1.25"/>
<line x1="109.2" y1="226.90" x2="114.50" y2="226.90" stroke="#000" stroke-width="1.25"/>
<line x1="109.2" y1="288.40" x2="114.50" y2="288.40" stroke="#000" stroke-width="1.25"/>
<line x1="109.2" y1="349.90" x2="114.50" y2="349.90" stroke="#000" stroke-width="1.25"/>
<line x1="109.2" y1="411.40" x2="114.50" y2="411.40" stroke="#000" stroke-width="1.25"/>
<line x1="117.40" y1="424.00" x2="117.40" y2="429.2" stroke="#000" stroke-width="1.25"/>
<line x1="174.77" y1="424.00" x2="174.77" y2="429.2" stroke="#000" stroke-width="1.25"/>
<line x1="232.14" y1="424.00" x2="232.14" y2="429.2" stroke="#000" stroke-width="1.25"/>
<line x1="289.51" y1="424.00" x2="289.51" y2="429.2" stroke="#000" stroke-width="1.25"/>
<line x1="346.88" y1="424.00" x2="346.88" y2="429.2" stroke="#000" stroke-width="1.25"/>
<line x1="113.2" y1="196.15" x2="114.50" y2="196.15" stroke="#000" stroke-width="0.6" opacity="0.3"/>
<line x1="113.2" y1="257.65" x2="114.50" y2="257.65" stroke="#000" stroke-width="0.6" opacity="0.3"/>
<line x1="113.2" y1="319.15" x2="114.50" y2="319.15" stroke="#000" stroke-width="0.6" opacity="0.3"/>
<line x1="113.2" y1="380.65" x2="114.50" y2="380.65" stroke="#000" stroke-width="0.6" opacity="0.3"/>
<line x1="146.08" y1="424.00" x2="146.08" y2="425.4" stroke="#000" stroke-width="0.6" opacity="0.3"/>
<line x1="203.45" y1="424.00" x2="203.45" y2="425.4" stroke="#000" stroke-width="0.6" opacity="0.3"/>
<line x1="260.82" y1="424.00" x2="260.82" y2="425.4" stroke="#000" stroke-width="0.6" opacity="0.3"/>
<line x1="318.19" y1="424.00" x2="318.19" y2="425.4" stroke="#000" stroke-width="0.6" opacity="0.3"/>
</g>
<g class="ticklabels">
<text x="106.1" y="169.60" text-anchor="end" font-size="15.2">-10000</text>
<text x="106.1" y="231.10" text-anchor="end" font-size="15.2">-15000</text>
<text x="106.1" y="292.60" text-anchor="end" font-size="15.2">-20000</text>
<text x="106.1" y="354.10" text-anchor="end" font-size="15.2">-25000</text>
<text x="106.1" y="415.60" text-anchor="end" font-size="15.2">-30000</text>
<text x="117.40" y="444.2" text-anchor="middle" font-size="15.5">0.0</text>
<text x="174.77" y="444.2" text-anchor="middle" font-size="15.5">0.2</text>
<text x="232.14" y="444.2" text-anchor="middle" font-size="15.5">0.4</text>
<text x="289.51" y="444.2" text-anchor="middle" font-size="15.5">0.6</text>
<text x="346.88" y="444.2" text-anchor="middle" font-size="15.5">0.8</text>
</g>
<g class="annotations">
<text x="310.3" y="195.8" font-size="14">Low temp</text>
<text x="337.8" y="400.7" font-size="14">High temp</text>
</g>
<g class="xlabel">
<text x="253.3" y="469.5" font-size="19.5">R</text>
<text x="267.3" y="459.9" font-size="12">2</text>
<text x="274.0" y="478.0" font-size="12">00</text>
</g>
<g class="ylabel" transform="translate(31.9 355.8) rotate(-90)">
<text x="0" y="0" font-size="19.5">FE (E, R</text>
<text x="74.3" y="-10.8" font-size="12">2</text>
<text x="81.1" y="8.4" font-size="12">00</text>
<text x="94.7" y="0" font-size="19.5">)</text>
</g>
</svg>
</body>
</html>
